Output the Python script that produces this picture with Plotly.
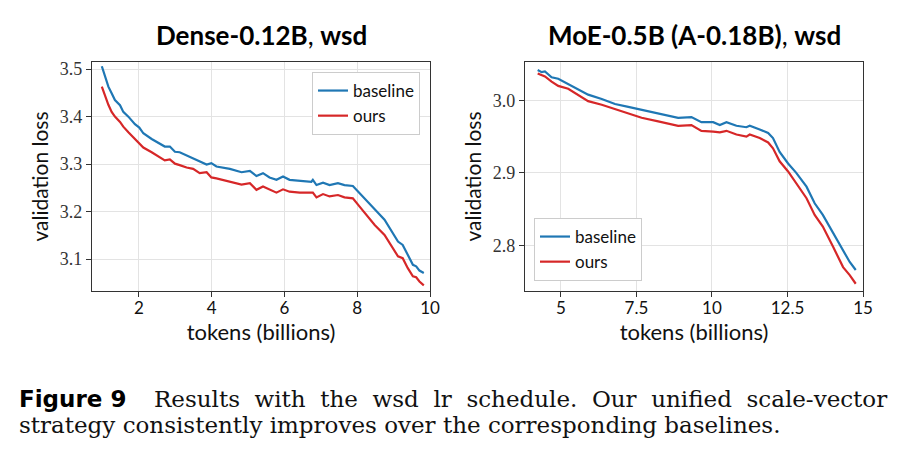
import plotly.graph_objects as go
from plotly.subplots import make_subplots

# Dense-0.12B, wsd
dense_tokens = [0.98, 1.07, 1.16, 1.25, 1.34, 1.48, 1.57, 1.71, 1.89, 2.01, 2.12, 2.35, 2.53,
                2.71, 2.85, 2.99, 3.12, 3.31, 3.49, 3.67, 3.86, 3.99, 4.13, 4.50, 4.82, 5.05,
                5.23, 5.41, 5.59, 5.78, 5.96, 6.14, 6.42, 6.74, 6.78, 6.88, 7.06, 7.24, 7.47,
                7.65, 7.88, 8.06, 8.25, 8.48, 8.75, 8.98, 9.12, 9.25, 9.39, 9.53, 9.62, 9.71, 9.83]
dense_baseline = [3.506, 3.484, 3.463, 3.449, 3.435, 3.424, 3.410, 3.400, 3.384, 3.377, 3.365,
                  3.353, 3.345, 3.337, 3.337, 3.326, 3.325, 3.318, 3.312, 3.305, 3.299, 3.302,
                  3.295, 3.290, 3.283, 3.286, 3.275, 3.281, 3.272, 3.267, 3.274, 3.267, 3.265,
                  3.263, 3.267, 3.256, 3.261, 3.256, 3.260, 3.256, 3.254, 3.239, 3.222, 3.205,
                  3.183, 3.155, 3.137, 3.130, 3.109, 3.088, 3.085, 3.076, 3.071]
dense_ours = [3.463, 3.442, 3.425, 3.410, 3.400, 3.389, 3.379, 3.367, 3.352, 3.342, 3.335,
              3.325, 3.317, 3.308, 3.310, 3.301, 3.298, 3.293, 3.290, 3.281, 3.283, 3.272,
              3.270, 3.263, 3.257, 3.260, 3.246, 3.253, 3.246, 3.240, 3.247, 3.242, 3.240,
              3.239, 3.240, 3.230, 3.237, 3.232, 3.235, 3.230, 3.228, 3.211, 3.193, 3.172,
              3.151, 3.123, 3.106, 3.102, 3.081, 3.064, 3.062, 3.053, 3.045]

# MoE-0.5B (A-0.18B), wsd
moe_tokens = [4.23, 4.36, 4.47, 4.69, 4.91, 5.24, 5.57, 5.90, 6.35, 6.79, 7.23, 7.67, 8.22,
              8.88, 9.32, 9.65, 10.04, 10.26, 10.48, 10.81, 11.14, 11.25, 11.58, 11.86, 12.02,
              12.24, 12.52, 12.79, 13.13, 13.40, 13.67, 14.01, 14.34, 14.56, 14.76]
moe_baseline = [3.042, 3.039, 3.040, 3.032, 3.030, 3.023, 3.016, 3.008, 3.002, 2.995, 2.991,
                2.987, 2.982, 2.976, 2.977, 2.970, 2.970, 2.966, 2.970, 2.965, 2.963, 2.965,
                2.960, 2.955, 2.948, 2.929, 2.913, 2.900, 2.881, 2.858, 2.842, 2.817, 2.793,
                2.777, 2.766]
moe_ours = [3.037, 3.035, 3.033, 3.026, 3.020, 3.016, 3.008, 2.999, 2.994, 2.988, 2.982,
            2.976, 2.971, 2.965, 2.966, 2.958, 2.957, 2.956, 2.958, 2.953, 2.950, 2.953,
            2.948, 2.942, 2.934, 2.916, 2.902, 2.886, 2.865, 2.842, 2.826, 2.798, 2.770,
            2.759, 2.747]

dense_xticks = [2, 4, 6, 8, 10]
dense_yticks = [3.1, 3.2, 3.3, 3.4, 3.5]
moe_xticks = [5, 7.5, 10, 12.5, 15]
moe_yticks = [2.8, 2.9, 3.0]

caption_words1 = ['Results', 'with', 'the', 'wsd', 'lr', 'schedule.', 'Our', 'unified',
                  'scale-vector']
caption_line2 = 'strategy consistently improves over the corresponding baselines.'

BLUE = '#1f77b4'
RED = '#d62728'
SANS = 'Lato'
SERIF = 'Liberation Serif'

# the page body has an 8px margin, so the figure sits at (8, 8)
OFF = 8
W, H = 906 - 2 * OFF, 460 - 2 * OFF


def px(x):
    return (x - OFF) / W


def py(y):
    return 1 - (y - OFF) / H


fig = make_subplots(rows=1, cols=2)

fig.add_trace(go.Scatter(x=dense_tokens, y=dense_baseline, mode='lines', name='baseline',
                         line=dict(color=BLUE, width=2.2), legend='legend'), row=1, col=1)
fig.add_trace(go.Scatter(x=dense_tokens, y=dense_ours, mode='lines', name='ours',
                         line=dict(color=RED, width=2.2), legend='legend'), row=1, col=1)
fig.add_trace(go.Scatter(x=moe_tokens, y=moe_baseline, mode='lines', name='baseline',
                         line=dict(color=BLUE, width=2.2), legend='legend2'), row=1, col=2)
fig.add_trace(go.Scatter(x=moe_tokens, y=moe_ours, mode='lines', name='ours',
                         line=dict(color=RED, width=2.2), legend='legend2'), row=1, col=2)

common_axis = dict(showline=True, linecolor='#333333', linewidth=1.3, mirror=True,
                   showgrid=True, gridcolor='#e3e3e3', gridwidth=1, zeroline=False,
                   ticks='outside', ticklen=5, tickwidth=1.2, tickcolor='#333333',
                   automargin=False)

fig.update_xaxes(**common_axis, tickfont=dict(family=SANS, size=17, color='#111111'),
                 ticklabelstandoff=-4,
                 title_font=dict(family=SANS, size=22, color='#111111'))
fig.update_yaxes(**common_axis, tickfont=dict(family=SERIF, size=18, color='#333333'),
                 title_font=dict(family=SANS, size=21, color='#111111'))

fig.update_xaxes(domain=[px(92), px(430)], range=[0.71, 10.0], tickvals=dense_xticks,
                 ticktext=[str(t) for t in dense_xticks], title_text='tokens (billions)',
                 title_standoff=0, row=1, col=1)
fig.update_yaxes(domain=[py(291), py(62)], range=[3.033, 3.515], tickvals=dense_yticks,
                 ticktext=['%.1f' % t for t in dense_yticks], title_text='validation loss',
                 title_standoff=5, row=1, col=1)
fig.update_xaxes(domain=[px(525), px(863)], range=[3.81, 15.0], tickvals=moe_xticks,
                 ticktext=['%g' % t for t in moe_xticks], title_text='tokens (billions)',
                 title_standoff=0, row=1, col=2)
fig.update_yaxes(domain=[py(291), py(62)], range=[2.737, 3.053], tickvals=moe_yticks,
                 ticktext=['%.1f' % t for t in moe_yticks], title_text='validation loss',
                 title_standoff=5, row=1, col=2)

legend_style = dict(bgcolor='white', bordercolor='#cccccc', borderwidth=1,
                    font=dict(family=SANS, size=17, color='#111111'), itemwidth=30)
fig.update_layout(
    legend=dict(x=px(420), y=py(72), xanchor='right', yanchor='top', **legend_style),
    legend2=dict(x=px(534), y=py(281), xanchor='left', yanchor='bottom', **legend_style),
)

# panel titles
title_font = dict(family=SANS, size=26, color='#000000')
fig.add_annotation(x=px(261), y=py(35), xref='paper', yref='paper', showarrow=False,
                   text='<b>Dense-0.12B</b>, <b>wsd</b>', xanchor='center', yanchor='middle',
                   font=title_font)
fig.add_annotation(x=px(694), y=py(35), xref='paper', yref='paper', showarrow=False,
                   text='<b>MoE-0.5B (A-0.18B)</b>, <b>wsd</b>', xanchor='center',
                   yanchor='middle', font=title_font)

# caption; the first line gets a few extra spaces so it spans the width like justified text
extra = [1, 1, 1, 1, 1, 1, 1, 1]
line1 = caption_words1[0]
for n, word in zip(extra, caption_words1[1:]):
    line1 += '\u00a0' * n + ' ' + word

cap_font = dict(family='DejaVu Serif', size=23, color='#111111')
fig.add_annotation(x=px(17), y=py(399), xref='paper', yref='paper', showarrow=False,
                   text='<b>Figure 9</b>', xanchor='left', yanchor='middle',
                   font=dict(family='DejaVu Sans', size=23, color='#000000'))
fig.add_annotation(x=px(152), y=py(399), xref='paper', yref='paper', showarrow=False,
                   text=line1, xanchor='left', yanchor='middle', font=cap_font)
fig.add_annotation(x=px(17), y=py(425), xref='paper', yref='paper', showarrow=False,
                   text=caption_line2, xanchor='left', yanchor='middle', font=cap_font)

fig.update_layout(width=W, height=H, margin=dict(l=0, r=0, t=0, b=0),
                  plot_bgcolor='white', paper_bgcolor='white', showlegend=True)

fig.write_html('out.html')
